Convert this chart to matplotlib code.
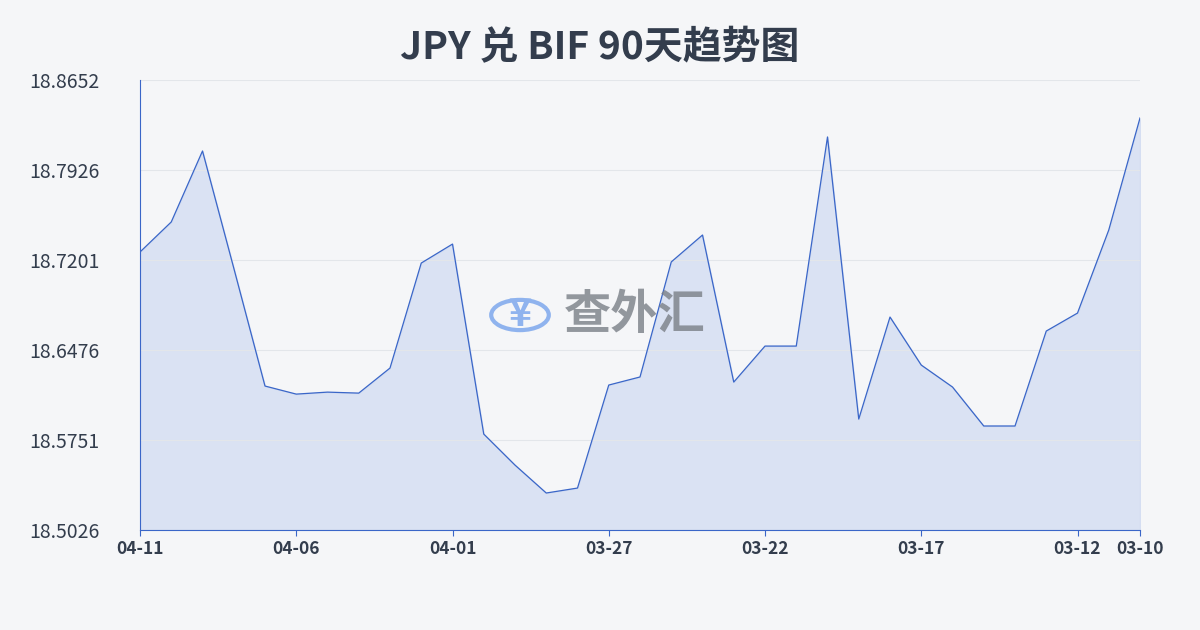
import matplotlib.pyplot as plt
import numpy as np

plt.rcParams['font.family'] = ['Noto Sans CJK SC', 'DejaVu Sans']

# data, oldest on the right (x axis runs from 04-11 back to 03-10)
dates = ['04-11', '04-10', '04-09', '04-08', '04-07', '04-06', '04-05', '04-04',
         '04-03', '04-02', '04-01', '03-31', '03-30', '03-29', '03-28', '03-27',
         '03-26', '03-25', '03-24', '03-23', '03-22', '03-21', '03-20', '03-19',
         '03-18', '03-17', '03-16', '03-15', '03-14', '03-13', '03-12', '03-11', '03-10']
rates = [18.7266, 18.7508, 18.8080, 18.7137, 18.6186, 18.6121, 18.6137, 18.6129,
         18.6331, 18.7177, 18.7330, 18.5799, 18.5549, 18.5324, 18.5364, 18.6194,
         18.6259, 18.7186, 18.7403, 18.6218, 18.6508, 18.6508, 18.8193, 18.5920,
         18.6742, 18.6355, 18.6178, 18.5864, 18.5864, 18.6629, 18.6774, 18.7443, 18.8346]
yticks = [18.5026, 18.5751, 18.6476, 18.7201, 18.7926, 18.8652]
xlabels = ['04-11', '04-06', '04-01', '03-27', '03-22', '03-17', '03-12', '03-10']

fig = plt.figure(figsize=(12, 6.3), dpi=100, facecolor='#f5f6f8')
ax = fig.add_axes([140/1200, 100/630, 1000/1200, 450/630])
ax.set_facecolor('#f5f6f8')

x = np.arange(len(dates))
ax.plot(x, rates, color='#3a66c8', lw=0.9)
ax.fill_between(x, rates, yticks[0], color='#c9d6f0', alpha=0.6)

ax.set_xlim(0, len(dates) - 1)
ax.set_ylim(yticks[0], yticks[-1])
ax.set_yticks(yticks)
ax.set_yticklabels([f'{v:.4f}' for v in yticks], fontsize=14, fontweight='medium', color='#333d4d')
ax.set_xticks([dates.index(d) for d in xlabels])
ax.set_xticklabels(xlabels, fontsize=12.5, fontweight='bold', color='#333d4d')
ax.grid(axis='y', color='#e3e6ea', lw=0.8)
ax.tick_params(axis='y', length=0, pad=8)
ax.tick_params(axis='x', length=4, color='#3a66c8')
for s in ['top', 'right']:
    ax.spines[s].set_visible(False)
ax.spines['left'].set_color('#3a66c8')
ax.spines['bottom'].set_color('#3a66c8')
for lbl in ax.get_yticklabels():
    lbl.set_horizontalalignment('left')
    lbl.set_x(-100/1000)

fig.text(0.5, 0.925, 'JPY 兑 BIF 90天趋势图', ha='center', va='center',
         fontsize=28, fontweight='bold', color='#333d4d')

# watermark
fig.text(520/1200, 315/630, '¥', ha='center', va='center', fontsize=28,
         color='#8fb3ee', fontweight='bold')
fig.patches.append(plt.Circle((520/1200, 315/630), 0.024, transform=fig.transFigure,
                              fill=False, ec='#8fb3ee', lw=3))
fig.text(635/1200, 315/630, '查外汇', ha='center', va='center', fontsize=34,
         color='#7a7f87', fontweight='bold', alpha=0.8)

fig.savefig('out.png', dpi=100, facecolor=fig.get_facecolor())
